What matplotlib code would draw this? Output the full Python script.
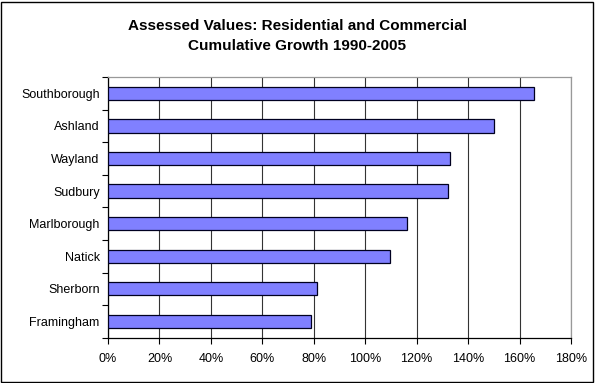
import matplotlib.pyplot as plt
import numpy as np
from matplotlib.patches import Rectangle
from matplotlib.ticker import FuncFormatter, MultipleLocator

plt.rcParams['font.family'] = ['Liberation Sans', 'DejaVu Sans']

towns = ['Framingham', 'Sherborn', 'Natick', 'Marlborough',
         'Sudbury', 'Wayland', 'Ashland', 'Southborough']
growth = [78.8, 81.2, 109.8, 116.2, 132.0, 133.0, 150.0, 165.8]

fig = plt.figure(figsize=(5.95, 3.83), dpi=100)
ax = fig.add_axes([108 / 595, 1 - 337.7 / 383, 463 / 595, 260.7 / 383])

y = np.arange(len(towns))
ax.barh(y, growth, height=0.41, color='#8080FF', edgecolor='#000020',
        linewidth=0.9, zorder=3)

ax.set_xlim(0, 180)
ax.set_ylim(-0.5, len(towns) - 0.5)
ax.xaxis.set_major_locator(MultipleLocator(20))
ax.xaxis.set_major_formatter(FuncFormatter(lambda v, p: f'{v:.0f}%'))
ax.set_yticks(y)
ax.set_yticklabels(towns)
ax.set_yticks(np.arange(-0.5, len(towns)), minor=True)

ax.grid(axis='x', color='#333333', linewidth=0.8, zorder=0)
ax.tick_params(axis='y', which='major', length=0, pad=6, labelsize=9)
ax.tick_params(axis='y', which='minor', length=4, direction='out', width=0.8)
ax.tick_params(axis='x', length=4, direction='out', width=0.8, pad=7, labelsize=9)

for s in ['top', 'right']:
    ax.spines[s].set_color('#999999')
    ax.spines[s].set_linewidth(0.9)
ax.spines['left'].set_linewidth(0.9)
ax.spines['bottom'].set_linewidth(0.9)

fig.text(0.5, 1 - 26 / 383, 'Assessed Values: Residential and Commercial',
         ha='center', va='center', fontsize=11, fontweight='bold')
fig.text(0.5, 1 - 46 / 383, 'Cumulative Growth 1990-2005',
         ha='center', va='center', fontsize=11, fontweight='bold')

fig.patches.append(Rectangle((1 / 595, 1 / 383), 592 / 595, 380 / 383,
                             transform=fig.transFigure, fill=False,
                             edgecolor='black', linewidth=1))

fig.savefig('out.png', dpi=100)
